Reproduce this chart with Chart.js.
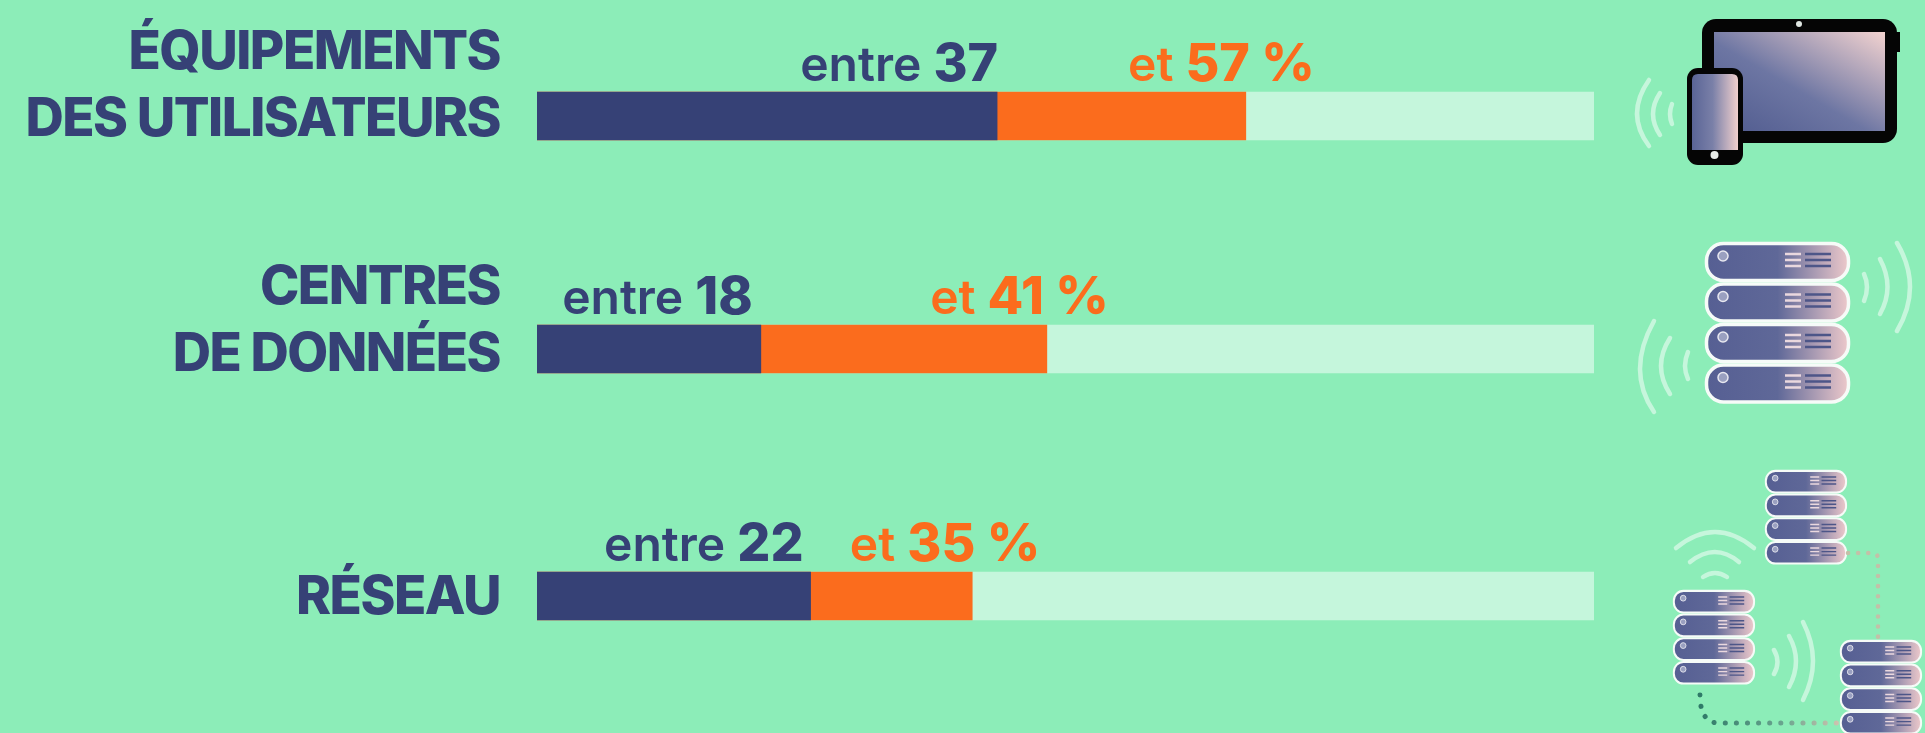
<!DOCTYPE html>
<html lang="fr">
<head>
<meta charset="utf-8">
<title>Empreinte carbone du numérique</title>
<script src="https://cdn.jsdelivr.net/npm/chart.js@4"></script>
<style>
  html, body { margin: 0; padding: 0; width: 1925px; height: 733px; overflow: hidden; background: #8cedb8; }
  canvas { position: absolute; left: 0; }
  svg { position: absolute; left: 0; top: 0; }
</style>
</head>
<body>
<svg width="1925" height="733" viewBox="0 0 1925 733" fill="none">
  <defs>
    <linearGradient id="screen" x1="0" y1="1" x2="1" y2="0">
      <stop offset="0" stop-color="#4f5a8e"/><stop offset=".45" stop-color="#6d76a3"/><stop offset="1" stop-color="#f3d3d0"/>
    </linearGradient>
    <linearGradient id="phone" x1="0" y1="0" x2="1" y2="0">
      <stop offset="0" stop-color="#5a6496"/><stop offset=".45" stop-color="#7a80a8"/><stop offset="1" stop-color="#f0cfcd"/>
    </linearGradient>
    <linearGradient id="unit" x1="0" y1="0" x2="1" y2="0">
      <stop offset="0" stop-color="#565f93"/><stop offset=".5" stop-color="#5f6898"/><stop offset="1" stop-color="#edc9cb"/>
    </linearGradient>
    <linearGradient id="dots" gradientUnits="userSpaceOnUse" x1="1700" y1="0" x2="1840" y2="0">
      <stop offset="0" stop-color="#2f7a68"/><stop offset=".6" stop-color="#6aa58f"/><stop offset="1" stop-color="#d0c4b0"/>
    </linearGradient>
    <g id="u">
      <rect x="1.500" y="1.500" width="142" height="37" rx="17" fill="url(#unit)" stroke="#f6fbf8" stroke-width="3.500"/>
      <circle cx="18" cy="14" r="5" fill="#9aa0c0" stroke="#e8e8f0" stroke-width="1.500"/>
      <path d="M80 12h16M80 18h16M80 24h16" stroke="#ead8de" stroke-width="2.500"/>
      <path d="M100 12h26M100 18h26M100 24h26" stroke="#4d5688" stroke-width="2.500"/>
    </g>
    <g id="stack">
      <use href="#u"/><use href="#u" y="40.500"/><use href="#u" y="81"/><use href="#u" y="121.500"/>
    </g>
  </defs>

  <!-- tablette + telephone -->
  <rect x="1702" y="19" width="195" height="124" rx="14" fill="#050505"/>
  <rect x="1895" y="32" width="5" height="20" fill="#050505"/>
  <rect x="1714" y="32" width="171" height="99" fill="url(#screen)"/>
  <circle cx="1799" cy="24" r="3" fill="#dfe6e2"/>
  <rect x="1687" y="68" width="56" height="97" rx="11" fill="#050505"/>
  <path d="M1692 80q0-6 6-6h34q6 0 6 6v70h-46z" fill="url(#phone)"/>
  <circle cx="1714.500" cy="155" r="4" fill="#e8ece8"/>
  <g stroke="#c6f6dc" stroke-width="4.500" stroke-linecap="round">
    <path d="M1672 104q-4 10 0 20"/>
    <path d="M1660 93q-14 21 0 42"/>
    <path d="M1649 80q-24 34 0 66"/>
    <!-- serveur centres de donnees -->
    <path d="M1864 274q6 13 0 27"/>
    <path d="M1880 259q15 28 0 55"/>
    <path d="M1897 243q26 44 0 88"/>
    <path d="M1688 352q-6 14 0 27"/>
    <path d="M1670 338q-18 28 0 56"/>
    <path d="M1654 321q-28 50 0 91"/>
    <!-- reseau -->
    <path d="M1703 577q12-8 24 0"/>
    <path d="M1690 562q25-20 49 0"/>
    <path d="M1676 548q39-32 78 0"/>
    <path d="M1774 650q7 12 0 24"/>
    <path d="M1789 636q14 25 0 51"/>
    <path d="M1803 622q20 39 0 78"/>
  </g>
  <use href="#stack" transform="translate(1705 242)"/>
  <use href="#stack" transform="translate(1765 470) scale(.565 .585)"/>
  <use href="#stack" transform="translate(1673 590) scale(.565 .585)"/>
  <use href="#stack" transform="translate(1840 640) scale(.565 .585)"/>
  <path d="M1848 553h24q6 0 6 6v82" stroke="#c3c0a8" stroke-width="4.500" stroke-dasharray="0.1 10" stroke-linecap="round"/>
  <path d="M1700 695q0 30 22 28h116" stroke="url(#dots)" stroke-width="5" stroke-dasharray="0.1 11" stroke-linecap="round"/>
</svg>

<canvas id="row0"></canvas>
<canvas id="row1"></canvas>
<canvas id="row2"></canvas>

<script>
const categories = [
  ['ÉQUIPEMENTS', 'DES UTILISATEURS', ''],
  ['CENTRES', 'DE DONNÉES', ''],
  ['RÉSEAU'],
];
const lowShare = [37, 18, 22];
const highShare = [57, 41, 35];
const trackEnd = [85, 85, 85];

const COLORS = { navy: '#364176', orange: '#fb6c1d', track: '#c5f6dc' };
const FONT = 'Inter';

// one chart per row: the rows are not evenly spaced in the picture
const rowCenters = [116, 349, 596];
const rowHeight = 230;
// label placement relative to the bar ends, per row
const entreGap = [-1, 8, 7];
const etGap = [69, 62, 68];
const tickNudge = [4, 6, 2];

function drawPair(ctx, right, y, small, big, color) {
  ctx.fillStyle = color;
  ctx.textAlign = 'left';
  ctx.textBaseline = 'alphabetic';
  ctx.font = `600 48px ${FONT}`;
  const w1 = ctx.measureText(small).width;
  ctx.font = `800 52px ${FONT}`;
  const w2 = ctx.measureText(big).width;
  ctx.font = `600 48px ${FONT}`;
  ctx.fillText(small, right - w1 - w2, y);
  ctx.font = `800 52px ${FONT}`;
  ctx.fillText(big, right - w2, y);
}

const rangeLabels = {
  id: 'rangeLabels',
  beforeDraw(chart) {
    chart.ctx.letterSpacing = '-1.5px';
  },
  afterDatasetsDraw(chart, args, opts) {
    const { ctx, scales: { x }, chartArea } = chart;
    const i = opts.row;
    const y = (chartArea.top + chartArea.bottom) / 2 - 35;
    ctx.save();
    ctx.letterSpacing = '0px';
    drawPair(ctx, x.getPixelForValue(lowShare[i]) - entreGap[i], y, 'entre ', String(lowShare[i]), COLORS.navy);
    drawPair(ctx, x.getPixelForValue(highShare[i]) + etGap[i], y, 'et ', highShare[i] + ' %', COLORS.orange);
    ctx.restore();
  },
};

categories.forEach((cat, i) => {
  const canvas = document.getElementById('row' + i);
  canvas.style.top = (rowCenters[i] - rowHeight / 2) + 'px';
  canvas.style.width = '1925px';
  canvas.style.height = rowHeight + 'px';
  canvas.width = 1925;
  canvas.height = rowHeight;
  const bar = { barThickness: 48, grouped: false, borderWidth: 0 };
  new Chart(canvas, {
    type: 'bar',
    data: {
      labels: [cat],
      datasets: [
        { ...bar, label: 'Minimum', data: [lowShare[i]], backgroundColor: COLORS.navy, order: 1 },
        { ...bar, label: 'Maximum', data: [highShare[i]], backgroundColor: COLORS.orange, order: 2 },
        { ...bar, label: 'Total', data: [trackEnd[i]], backgroundColor: COLORS.track, order: 3 },
      ],
    },
    options: {
      indexAxis: 'y',
      responsive: false,
      animation: false,
      layout: { padding: { right: 331, top: 0, bottom: 0, left: 0 } },
      plugins: { legend: { display: false }, tooltip: { enabled: false }, rangeLabels: { row: i } },
      scales: {
        x: { display: false, min: 0, max: 85 },
        y: {
          // the tall tick labels must not shrink the plot area, or the bars get clipped
          afterFit: s => { s.width = 537; s.paddingTop = 0; s.paddingBottom = 0; },
          grid: { display: false },
          border: { display: false },
          ticks: {
            autoSkip: false,
            padding: 29,
            labelOffset: tickNudge[i],
            color: COLORS.navy,
            font: { family: FONT, weight: 800, size: 53, lineHeight: 1.27 },
          },
        },
      },
    },
    plugins: [rangeLabels],
  });
});
</script>
</body>
</html>
